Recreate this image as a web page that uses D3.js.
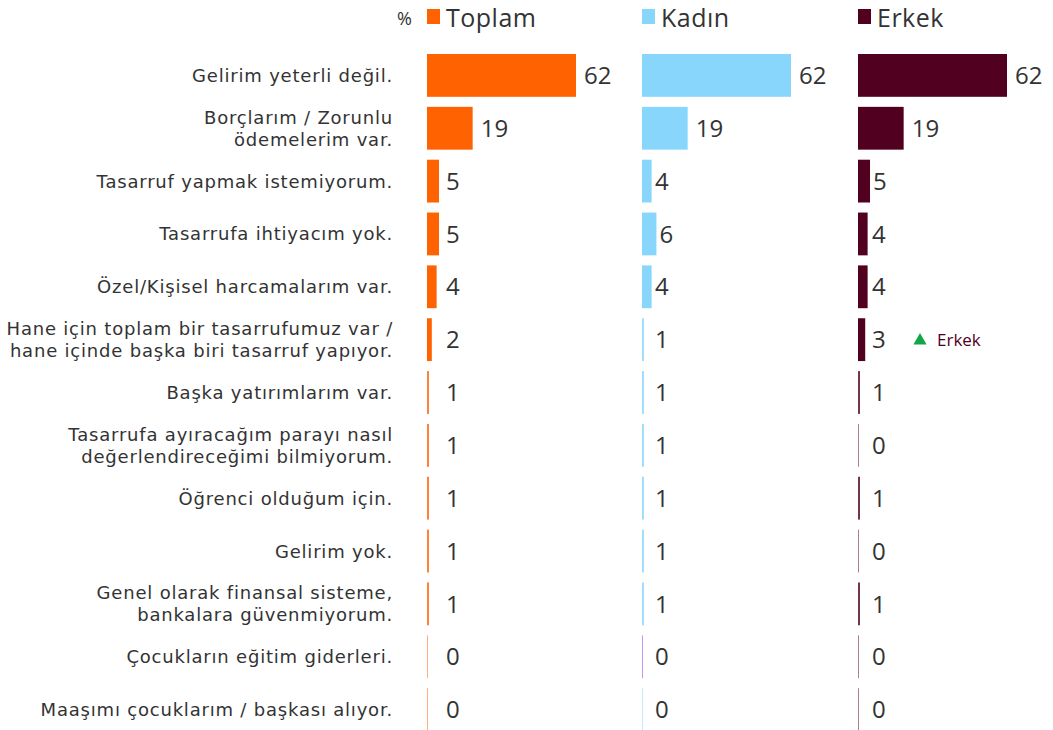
<!DOCTYPE html>
<html><head><meta charset="utf-8">
<script src="https://cdn.jsdelivr.net/npm/d3@7"></script>
<style>
body{margin:0;background:#fff;}
svg{display:block;font-family:"Open Sans","Noto Sans",sans-serif;}
</style></head>
<body><svg id="c" width="1053" height="730"></svg>
<script>
const categories = [
  ["Gelirim yeterli değil."],
  ["Borçlarım / Zorunlu","ödemelerim var."],
  ["Tasarruf yapmak istemiyorum."],
  ["Tasarrufa ihtiyacım yok."],
  ["Özel/Kişisel harcamalarım var."],
  ["Hane için toplam bir tasarrufumuz var /","hane içinde başka biri tasarruf yapıyor."],
  ["Başka yatırımlarım var."],
  ["Tasarrufa ayıracağım parayı nasıl","değerlendireceğimi bilmiyorum."],
  ["Öğrenci olduğum için."],
  ["Gelirim yok."],
  ["Genel olarak finansal sisteme,","bankalara güvenmiyorum."],
  ["Çocukların eğitim giderleri."],
  ["Maaşımı çocuklarım / başkası alıyor."]
];
const seriesNames = ["Toplam","Kadın","Erkek"];
const toplam = [62,19,5,5,4,2,1,1,1,1,1,0,0];
const kadin  = [62,19,4,6,4,1,1,1,1,1,1,0,0];
const erkek  = [62,19,5,4,4,3,1,0,1,0,1,0,0];
const annotation = {series:"Erkek", row:5, text:"Erkek"};

const colors = ["#FF6200","#89D6FD","#52001F"];
const series = [toplam,kadin,erkek];
const svg = d3.select("#c");
const textCol = "#333333";

const y = d3.scaleBand().domain(d3.range(categories.length)).range([54, 731]).paddingInner(0.19).paddingOuter(0);
const x = d3.scaleLinear().domain([0,62]).range([0,149]);
const colX = d3.scaleOrdinal().domain(seriesNames).range([427,642,858]);
const minLabelOff = {"Toplam":19,"Kadın":13,"Erkek":14};
const barW = d => d===0 ? 1 : (d===1 ? 2 : x(d));

// category labels
const lab = svg.append("g");
categories.forEach((lines,i)=>{
  const cy = y(i)+y.bandwidth()/2;
  const lh = 22;
  lines.forEach((l,j)=>{
    lab.append("text").attr("text-anchor","end")
      .attr("font-family","'DejaVu Sans',sans-serif").attr("font-size",18)
      .attr("letter-spacing","0.8px").attr("fill",textCol)
      .attr("x",393).attr("y",cy + (j-(lines.length-1)/2)*lh).attr("dy","0.36em").text(l);
  });
});

// bars
seriesNames.forEach((s,si)=>{
  const g = svg.append("g").attr("transform",`translate(${colX(s)},0)`);
  const vals = series[si];
  g.selectAll("rect").data(vals).join("rect")
    .attr("x",0).attr("y",(d,i)=>y(i)).attr("height",y.bandwidth())
    .attr("width",barW)
    .attr("fill",(d,i)=> (s==="Kadın"&&i===11)?"#8A2BE2":colors[si])
    .attr("opacity",d=> d===0?0.5:(d===1?0.8:1));
  g.selectAll("text").data(vals).join("text")
    .attr("x",d=> Math.max(barW(d) + (d>=10?8:3), minLabelOff[s]))
    .attr("y",(d,i)=>y(i)+y.bandwidth()/2).attr("dy","0.36em")
    .attr("font-size",24).attr("fill",textCol).text(d=>d);
});

// legend
svg.append("text").attr("x",397).attr("y",25).attr("font-size",18).attr("fill",textCol).text("%");
seriesNames.forEach((s,si)=>{
  const lx = colX(s);
  svg.append("rect").attr("x",lx).attr("y",9).attr("width",13).attr("height",15).attr("fill",colors[si]);
  svg.append("text").attr("x",lx+19).attr("y",27).attr("font-size",25).attr("letter-spacing","0.5px").attr("fill",textCol).text(s);
});

// annotation
{
  const si = seriesNames.indexOf(annotation.series);
  const cy = y(annotation.row)+y.bandwidth()/2;
  const ax = colX(annotation.series) + 55;
  svg.append("path").attr("d",d3.symbol(d3.symbolTriangle,75)()).attr("transform",`translate(${ax+7},${cy+1})`).attr("fill","#12A64A");
  svg.append("text").attr("x",ax+24).attr("y",cy).attr("dy","0.36em").attr("font-size",17).attr("fill",colors[si]).text(annotation.text);
}
</script></body></html>
